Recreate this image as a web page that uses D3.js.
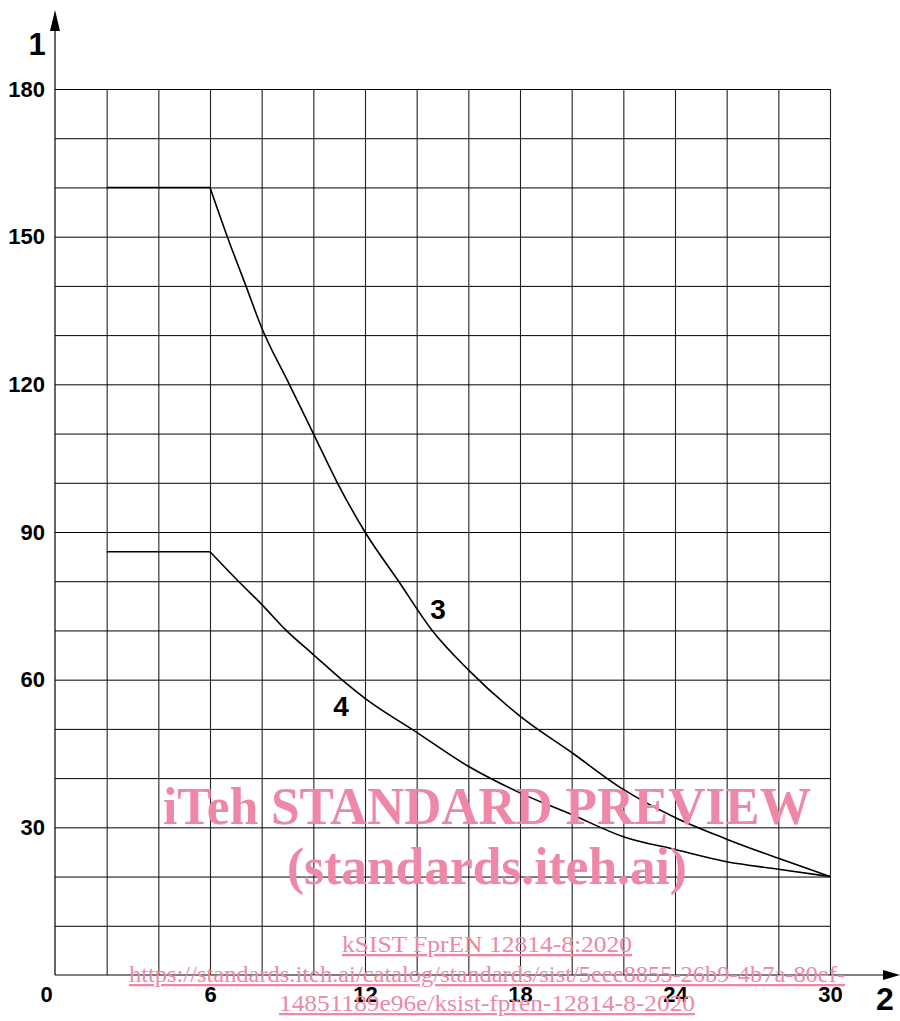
<!DOCTYPE html>
<html>
<head>
<meta charset="utf-8">
<script src="https://cdn.jsdelivr.net/npm/d3@7/dist/d3.min.js"></script>
<style>
  html, body { margin: 0; padding: 0; background: #fff; }
  svg { display: block; }
</style>
</head>
<body>
<svg id="chart" width="900" height="1021"></svg>
<script>
// ---- data ----
const xTickValues = [0, 6, 12, 18, 24, 30];
const yTickValues = [30, 60, 90, 120, 150, 180];
const xGridValues = [2, 4, 6, 8, 10, 12, 14, 16, 18, 20, 22, 24, 26, 28, 30];
const yGridValues = [10, 20, 30, 40, 50, 60, 70, 80, 90, 100, 110, 120, 130, 140, 150, 160, 170, 180];
const xAxisName = "2";
const yAxisName = "1";

const curve3X = [2, 6, 6.67, 7.39, 8.0, 9.07, 10, 10.93, 12, 13.3, 14.6, 16, 18, 20, 22, 24, 26, 28, 30];
const curve3Y = [160, 160, 150, 140, 131.5, 120, 110, 100, 90, 80, 70, 62, 52.6, 45.2, 37.7, 32, 27.6, 23.7, 20];
const curve4X = [2, 6, 7.1, 8, 8.95, 10, 11.1, 12, 14, 16, 18, 20, 22, 24, 26, 28, 30];
const curve4Y = [86, 86, 80, 75.3, 70, 65.1, 60, 56.2, 49.3, 42.4, 37, 32.6, 28.1, 25.5, 23, 21.5, 20];
const seriesNames = ["3", "4"];
const labelPos = [[14.83, 74.2], [11.07, 54.5]]; // data coords of curve labels

const watermarkLines = [
  "iTeh STANDARD PREVIEW",
  "(standards.iteh.ai)",
  "kSIST FprEN 12814-8:2020",
  "https://standards.iteh.ai/catalog/standards/sist/5eee8855-26b9-4b7a-80ef-",
  "14851189e96e/ksist-fpren-12814-8-2020"
];

// ---- layout ----
const svg = d3.select("#chart");
const x = d3.scaleLinear().domain([0, 30]).range([55, 830]);
const y = d3.scaleLinear().domain([0, 180]).range([975, 89]);
const sans = "Arial, 'Liberation Sans', sans-serif";
const serif = "'Times New Roman', 'Liberation Serif', serif";

// grid via axes
svg.append("g")
  .attr("transform", `translate(0,${y(0)})`)
  .call(d3.axisBottom(x).tickValues(xGridValues).tickSize(-(y(0) - y(180))).tickFormat(""))
  .call(g => g.select(".domain").remove())
  .call(g => g.selectAll("line").attr("stroke", "#222").attr("stroke-width", 1.1));

svg.append("g")
  .attr("transform", `translate(${x(0)},0)`)
  .call(d3.axisLeft(y).tickValues(yGridValues).tickSize(-(x(30) - x(0))).tickFormat(""))
  .call(g => g.select(".domain").remove())
  .call(g => g.selectAll("line").attr("stroke", "#000").attr("stroke-width", 1));

// tick labels
const xAx = svg.append("g")
  .attr("transform", `translate(0,${y(0)})`)
  .call(d3.axisBottom(x).tickValues(xTickValues).tickSize(0).tickPadding(11))
  .call(g => g.select(".domain").remove());
xAx.selectAll("text").attr("font-family", sans).attr("font-size", 22).attr("font-weight", "bold").attr("fill", "#000")
  .attr("dx", d => d === 0 ? -9 : 0);

const yAx = svg.append("g")
  .attr("transform", `translate(${x(0)},0)`)
  .call(d3.axisLeft(y).tickValues(yTickValues).tickSize(0).tickPadding(10))
  .call(g => g.select(".domain").remove());
yAx.selectAll("text").attr("font-family", sans).attr("font-size", 22).attr("font-weight", "bold").attr("fill", "#000");

// axis lines + arrows
svg.append("line").attr("x1", x(0)).attr("x2", x(0)).attr("y1", y(0)).attr("y2", 28)
  .attr("stroke", "#000").attr("stroke-width", 1.2);
svg.append("path").attr("d", `M${x(0)},10 L${x(0) - 5},31 L${x(0) + 5},31 Z`).attr("fill", "#000");
svg.append("line").attr("x1", x(0)).attr("x2", 886).attr("y1", y(0)).attr("y2", y(0))
  .attr("stroke", "#000").attr("stroke-width", 1.2);
svg.append("path").attr("d", `M900,${y(0)} L883,${y(0) - 5} L883,${y(0) + 5} Z`).attr("fill", "#000");

svg.append("text").attr("x", 37).attr("y", 55).attr("text-anchor", "middle")
  .attr("font-family", sans).attr("font-weight", "bold").attr("font-size", 31).text(yAxisName);
svg.append("text").attr("x", 885).attr("y", 1010).attr("text-anchor", "middle")
  .attr("font-family", sans).attr("font-weight", "bold").attr("font-size", 32).text(xAxisName);

// curves
const line = d3.line().x(d => x(d[0])).y(d => y(d[1])).curve(d3.curveMonotoneX);
const flat = d3.line().x(d => x(d[0])).y(d => y(d[1]));
[[curve3X, curve3Y], [curve4X, curve4Y]].forEach(([xs, ys]) => {
  const pts = xs.map((v, i) => [v, ys[i]]);
  svg.append("path").attr("d", flat(pts.slice(0, 2)))
    .attr("fill", "none").attr("stroke", "#000").attr("stroke-width", 1.6);
  svg.append("path").attr("d", line(pts.slice(1)))
    .attr("fill", "none").attr("stroke", "#000").attr("stroke-width", 1.6);
});

seriesNames.forEach((n, i) => {
  svg.append("text").attr("x", x(labelPos[i][0])).attr("y", y(labelPos[i][1]))
    .attr("text-anchor", "middle").attr("dominant-baseline", "central")
    .attr("font-family", sans).attr("font-size", 28).attr("font-weight", "bold").attr("fill", "#000").text(n);
});

// watermark
const pink = "#ee88a6";
const wm = svg.append("g").attr("fill", pink).attr("font-family", serif);
wm.append("text").attr("x", 487).attr("y", 824).attr("text-anchor", "middle")
  .attr("font-weight", "bold").attr("font-size", 52)
  .attr("textLength", 648).attr("lengthAdjust", "spacingAndGlyphs").text(watermarkLines[0]);
wm.append("text").attr("x", 487).attr("y", 884).attr("text-anchor", "middle")
  .attr("font-weight", "bold").attr("font-size", 52)
  .attr("textLength", 400).attr("lengthAdjust", "spacingAndGlyphs").text(watermarkLines[1]);
[[watermarkLines[2], 952, 290], [watermarkLines[3], 982, 716], [watermarkLines[4], 1011, 416]].forEach(([t, yy, w]) => {
  wm.append("text").attr("x", 487).attr("y", yy).attr("text-anchor", "middle")
    .attr("font-size", 23).attr("text-decoration", "underline")
    .attr("textLength", w).attr("lengthAdjust", "spacingAndGlyphs").text(t);
});
</script>
</body>
</html>
